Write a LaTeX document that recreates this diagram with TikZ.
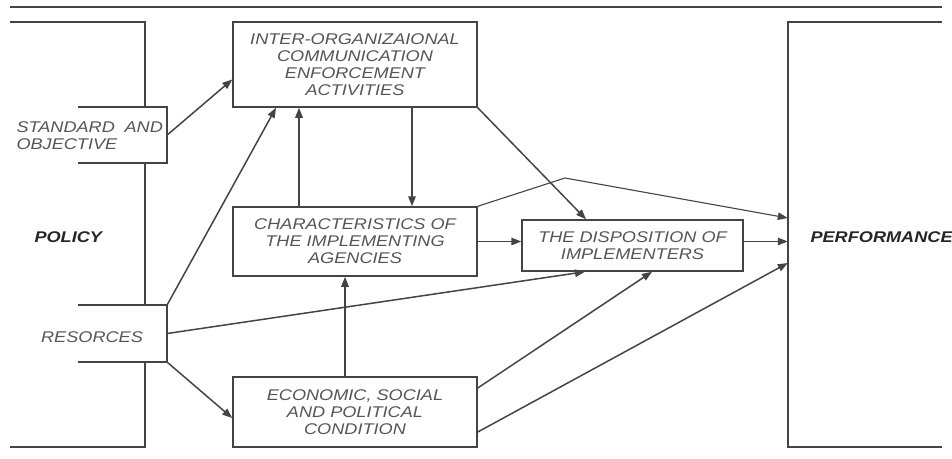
\documentclass[tikz,border=0pt]{standalone}
\usepackage{fontspec}
\setmainfont{Liberation Sans}[FakeStretch=1.17]
\usetikzlibrary{arrows.meta}
\definecolor{linegray}{HTML}{444444}
\definecolor{textgray}{HTML}{555555}

\begin{document}
\begin{tikzpicture}[x=1pt,y=-1pt,
   every node/.style={font=\fontsize{15.5}{17}\selectfont\itshape,text=textgray,align=center},
   box/.style={draw=linegray,line width=1.5pt,rectangle,inner sep=0pt},
   frame/.style={rectangle,inner sep=0pt},
   heading/.style={font=\fontsize{15.5}{17}\selectfont\bfseries\itshape,text=black!85},
   side/.style={draw=linegray,line width=1.5pt},
   link/.style={draw=linegray,line width=1.5pt,-{Triangle[length=10pt,width=7.5pt]}}]
\useasboundingbox (0,0) rectangle (952,458);
\node[box,minimum width=244pt,minimum height=85pt] (inter) at (355,64.5) {INTER-ORGANIZAIONAL\\COMMUNICATION\\ENFORCEMENT\\ACTIVITIES};
\node[box,minimum width=244pt,minimum height=69pt] (charac) at (355,241.5) {CHARACTERISTICS OF\\THE IMPLEMENTING\\AGENCIES};
\node[box,minimum width=244pt,minimum height=70pt] (econ) at (355,412) {ECONOMIC, SOCIAL\\AND POLITICAL\\CONDITION};
\node[box,minimum width=221pt,minimum height=51pt] (dispo) at (632.5,245.5) {THE DISPOSITION OF\\IMPLEMENTERS};
\node[frame,minimum width=135pt,minimum height=425pt] (pol) at (77.5,234.5) {};
\node[frame,minimum width=89pt,minimum height=56pt] (stand) at (122.5,135) {};
\node[frame,minimum width=89pt,minimum height=57pt] (res) at (122.5,333.5) {};
\node[frame,minimum width=154pt,minimum height=425pt] (perf) at (865,234.5) {};
\node[heading,anchor=west] (poltxt) at (31,237) {POLICY};
\node[heading,anchor=west] (perftxt) at (807,237) {PERFORMANCE};
\node[anchor=west,align=left] (standtxt) at (13,136) {STANDARD\hspace{0.3em} AND\\OBJECTIVE};
\node (restxt) at (92,337) {RESORCES};
\draw[side] (10,7) -- (942,7);
\draw[side] (pol.north west) -- (pol.north east) -- (pol.east |- stand.north);
\draw[side] (pol.east |- stand.south) -- (pol.east |- res.north);
\draw[side] (pol.east |- res.south) -- (pol.south east) -- (pol.south west);
\draw[side] (stand.north west) -- (stand.north east) -- (stand.south east) -- (stand.south west);
\draw[side] (res.north west) -- (res.north east) -- (res.south east) -- (res.south west);
\draw[side] (perf.north east) -- (perf.north west) -- (perf.south west) -- (perf.south east);
\draw[link] (stand.east) -- ([yshift=-15pt]inter.west);
\draw[link] (res.north east) -- ([xshift=-79pt]inter.south);
\draw[link] ([xshift=-56pt]charac.north) -- ([xshift=-56pt]inter.south);
\draw[link] ([xshift=57pt]inter.south) -- ([xshift=57pt]charac.north);
\draw[link] (inter.south east) -- ([xshift=-46.5pt]dispo.north);
\coordinate (kink) at (565,178);
\draw[link,line width=1.1pt] (charac.north east) -- (kink) -- ([yshift=16.5pt]perf.west);
\draw[link] (charac.east) -- (charac.east -| dispo.west);
\draw[link] (dispo.east |- charac.east) -- (perf.west |- charac.east);
\draw[link] (res.east) -- ([xshift=-47.5pt]dispo.south);
\draw[link] (res.south east) -- ([yshift=-6pt]econ.west);
\draw[link] ([xshift=-10pt]econ.north) -- ([xshift=-10pt]charac.south);
\draw[link] ([yshift=24pt]econ.east) -- ([xshift=19.5pt]dispo.south);
\draw[link] ([yshift=-20pt]econ.east) -- ([yshift=-28.5pt]perf.west);
\end{tikzpicture}
\end{document}
